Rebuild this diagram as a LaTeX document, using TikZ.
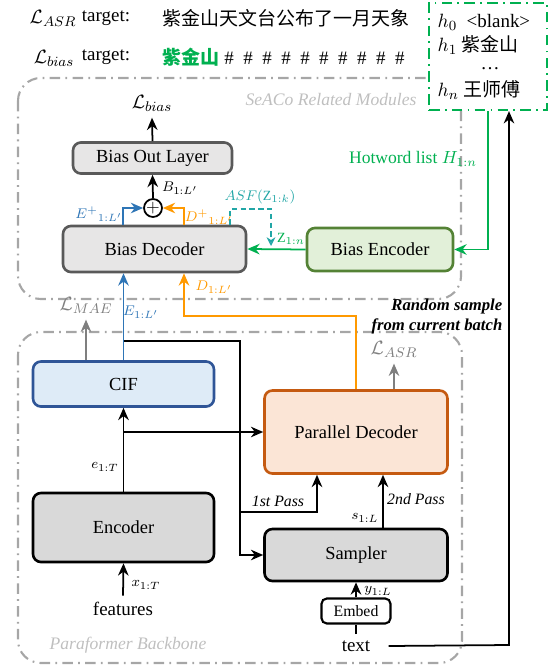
\documentclass[tikz,border=0pt]{standalone}
\usepackage{amsmath}
\usepackage{amsfonts}
\usepackage{fontspec}
\setmainfont{Liberation Serif}
\newfontfamily\cjk{Noto Sans CJK SC}
\usepackage{tikz}
\usetikzlibrary{arrows.meta,calc}
\usetikzlibrary{shapes}
\definecolor{boxgray}{HTML}{E7E6E6}
\definecolor{edgegray}{HTML}{595959}
\definecolor{framegray}{HTML}{A6A6A6}
\definecolor{lossgray}{HTML}{7F7F7F}
\definecolor{taggray}{HTML}{BFBFBF}
\definecolor{ciffill}{HTML}{DEEBF7}
\definecolor{cifedge}{HTML}{2F5597}
\definecolor{flowblue}{HTML}{2E75B6}
\definecolor{floworange}{HTML}{FF9900}
\definecolor{decfill}{HTML}{FBE5D6}
\definecolor{decedge}{HTML}{C55A11}
\definecolor{hotgreen}{HTML}{00B050}
\definecolor{encfill}{HTML}{E2F0D9}
\definecolor{encedge}{HTML}{548235}
\definecolor{asfteal}{HTML}{21A6A6}
\definecolor{stepgray}{HTML}{D9D9D9}
\tikzstyle{wire}=[-, line width=1pt]
\tikzstyle{flow}=[-{Stealth[length=7pt,width=6pt]}, line width=1pt]
\tikzstyle{block}=[rectangle, draw, line width=1.5pt, rounded corners=4.5pt,
		text centered, font=\fontsize{10.5}{12}\selectfont]
\tikzstyle{frame}=[draw=framegray, line width=1.2pt,
		dash pattern=on 6pt off 3pt on 1pt off 3pt, rounded corners=13pt]
\tikzstyle{tag}=[text=taggray, font=\itshape\fontsize{10}{12}\selectfont]
\tikzstyle{lbl}=[inner sep=1pt, font=\footnotesize]
\tikzstyle{big}=[font=\fontsize{10.8}{13}\selectfont]

\begin{document}
\begin{tikzpicture}[x=0.02cm,y=-0.02cm,thick]
    \useasboundingbox (0,0) rectangle (553,666);

    % module frames
    \draw[frame] (18,78) rectangle (461,299);
    \draw[frame] (18,332) rectangle (462,663);
    \node[tag] (seaco) at (331,100) {SeACo Related Modules};
    \node[tag] (backbone) at (128,645) {Paraformer Backbone};

    % hotword list
    \node (hotbox) [draw=hotgreen, fill=white, line width=1.3pt,
    		dash pattern=on 6pt off 3pt on 1pt off 3pt,
    		minimum width=2.36cm, minimum height=2.14cm] at (488,56.5) {};
    \node[big, anchor=west, inner sep=0] (h0) at (437,22) {$h_0$\ \ <blank>};
    \node[big, anchor=west, inner sep=0] (h1) at (437,45) {$h_1$ {\cjk 紫金山}};
    \node[big, inner sep=0] (hdots) at (490,69) {\ldots};
    \node[big, anchor=west, inner sep=0] (hn) at (437,90) {$h_n$ {\cjk 王师傅}};

    % targets
    \node[big] (lasrtag) at (53,18) {$\mathcal{L}_{ASR}$};
    \node[big] (asrword) at (106,18) {target:};
    \node[big, anchor=west, inner sep=0] (asrtext) at (162,18)
    	{\cjk 紫金山天文台公布了一月天象};
    \node[big] (lbiastag) at (54,58) {$\mathcal{L}_{bias}$};
    \node[big] (biasword) at (106,57) {target:};
    \node[big, anchor=west, inner sep=0] (biastext) at (162,57)
    	{{\cjk\bfseries\color{hotgreen}紫金山}\makebox[1em]{\#}\makebox[1em]{\#}%
    	\makebox[1em]{\#}\makebox[1em]{\#}\makebox[1em]{\#}\makebox[1em]{\#}%
    	\makebox[1em]{\#}\makebox[1em]{\#}\makebox[1em]{\#}\makebox[1em]{\#}};

    % SeACo blocks
    \node (outlayer) [block, draw=edgegray, fill=boxgray,
    		minimum width=3.18cm, minimum height=0.62cm] at (152.5,158) {Bias Out Layer};
    \node (biasdec) [block, draw=edgegray, fill=boxgray,
    		minimum width=3.66cm, minimum height=0.92cm] at (154.5,249) {Bias Decoder};
    \node (biasenc) [block, draw=encedge, fill=encfill,
    		minimum width=2.92cm, minimum height=0.86cm] at (380,249.5) {Bias Encoder};
    \node (plus) [circle, draw, line width=1pt, inner sep=0,
    		minimum size=0.36cm] at (153,208) {$+$};
    \node[big] (lbias) at (152,103) {$\mathcal{L}_{bias}$};

    % backbone blocks
    \node (cif) [block, draw=cifedge, fill=ciffill,
    		minimum width=3.62cm, minimum height=0.90cm] at (123.5,384) {CIF};
    \node (encoder) [block, draw=black, fill=stepgray,
    		minimum width=3.62cm, minimum height=1.38cm] at (123.5,527.5) {Encoder};
    \node (pardec) [block, draw=decedge, fill=decfill,
    		minimum width=3.66cm, minimum height=1.66cm] at (356,432) {Parallel Decoder};
    \node (sampler) [block, draw=black, fill=stepgray,
    		minimum width=3.66cm, minimum height=1.04cm] at (356,555) {Sampler};
    \node (embed) [block, draw=black, fill=white, line width=1.2pt, rounded corners=3pt,
    		font=\small, minimum width=1.38cm, minimum height=0.5cm] at (356,611) {Embed};
    \node[big] (features) at (123,609) {features};
    \node[big, minimum width=1.28cm] (txt) at (356,646) {text};
    \node[big, text=lossgray] (lmae) at (86,305) {$\mathcal{L}_{MAE}$};
    \node[big, text=lossgray] (lasr) at (394,349) {$\mathcal{L}_{ASR}$};
    \node[anchor=north east, align=right, inner sep=0,
    		font=\bfseries\itshape\fontsize{9.5}{11.5}\selectfont] (randnote) at (503,298)
    	{Random sample\\from current batch};

    % connector bends
    \coordinate (asfup) at (230,209);
    \coordinate (asfend) at (271,246);
    \coordinate (dtap) at (184,316);
    \coordinate (cifout) at (124,341);
    \coordinate (split) at (240,341);
    \coordinate (pass1) at (317,512);
    \coordinate (pass2) at (383,0);
    \coordinate (ret) at (509,645);

    % SeACo connectors
    \draw[flow] (outlayer.north) -- (lbias.south);
    \draw[flow] (plus.north) -- (outlayer.south);
    \draw[flow, flowblue] (biasdec.north -| 123,0) |- (plus.west);
    \draw[flow, floworange] (biasdec.north -| 184,0) |- (plus.east);
    \draw[-{Stealth[length=5pt,width=5pt,open]}, asfteal, line width=0.8pt,
    	dash pattern=on 3pt off 2pt] (biasdec.north -| asfup) -- (asfup) -| (asfend);
    \draw[flow, hotgreen] (biasenc.west) -- (biasdec.east);
    \draw[flow, hotgreen] (hotbox.south) |- (biasenc.east);
    \draw[flow] (txt.east) -- (ret) -- (ret |- hotbox.south);

    % backbone connectors
    \draw[flow, flowblue] (cif.north) -- (cif.north |- biasdec.south);
    \draw[flow, floworange] (pardec.north) |- (dtap) -- (dtap |- biasdec.south);
    \draw[flow, lossgray] (lmae.south |- cif.north) -- (lmae.south);
    \draw[flow, lossgray] (lasr.south |- pardec.north) -- (lasr.south);
    \draw[flow] (cifout) -- (split) |- (sampler.west);
    \draw[flow] (split |- pass1) -- (pass1) -- (pass1 |- pardec.south);
    \draw[flow] (pass2 |- sampler.north) -- (pass2 |- pardec.south);
    \draw[flow] (encoder.north) -- (cif.south);
    \draw[flow] (encoder.north |- pardec.west) -- (pardec.west);
    \draw[flow] (features.north) -- (encoder.south);
    \draw[flow] (embed.north) -- (sampler.south);
    \draw[wire] (txt.north) -- (embed.south);

    % connector labels
    \node[lbl] (blab) at (180,188) {$B_{1:L'}$};
    \node[lbl, text=flowblue] (eplab) at (99,214) {$E^{+}{}_{1:L'}$};
    \node[lbl, text=floworange] (dplab) at (209,217) {$D^{+}{}_{1:L'}$};
    \node[lbl, text=asfteal] (asflab) at (260,197) {$ASF(\mathrm{Z}_{1:k})$};
    \node[lbl, text=hotgreen] (zlab) at (291,239) {$\mathrm{Z}_{1:n}$};
    \node[text=hotgreen, font=\fontsize{10}{12}\selectfont] (hotlab) at (413,159)
    	{Hotword list $H_{1:n}$};
    \node[lbl, text=flowblue] (elab) at (141,312) {$E_{1:L'}$};
    \node[lbl, text=floworange] (dlab) at (214,287) {$D_{1:L'}$};
    \node[lbl] (elab2) at (105,467) {$e_{1:T}$};
    \node[lbl] (xlab) at (146,585) {$x_{1:T}$};
    \node[lbl] (slab) at (365,518) {$s_{1:L}$};
    \node[lbl] (ylab) at (378,591) {$y_{1:L}$};
    \node[lbl, font=\itshape\fontsize{9}{11}\selectfont] (p1lab) at (278,501) {1st Pass};
    \node[lbl, font=\itshape\fontsize{9}{11}\selectfont] (p2lab) at (416,499) {2nd Pass};

\end{tikzpicture}
\end{document}
